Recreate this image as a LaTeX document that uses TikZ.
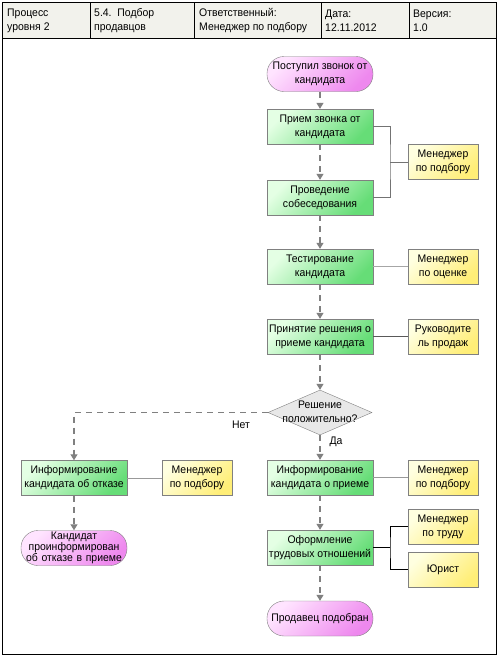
\documentclass[tikz,border=0pt]{standalone}
\usepackage{fontspec}
\setmainfont{Liberation Sans}[FakeStretch=0.95]
\usetikzlibrary{shapes.geometric,arrows.meta}
\definecolor{greenL}{HTML}{E4FFE4}
\definecolor{greenD}{HTML}{66DD77}
\definecolor{yellowL}{HTML}{FFFFE0}
\definecolor{yellowD}{HTML}{FFEE77}
\definecolor{pinkL}{HTML}{FFE4FF}
\definecolor{pinkD}{HTML}{EE88EE}
\definecolor{edge}{HTML}{808080}
\definecolor{hdr}{HTML}{F2F2EC}
\definecolor{dia}{HTML}{E8E8E8}
\tikzset{
  txt/.style={font=\fontsize{11pt}{14pt}\selectfont, align=center, inner sep=0pt},
  proc/.style={txt, rectangle, draw=edge, minimum width=106pt, minimum height=35pt,
    top color=greenL, bottom color=greenD, shading angle=45},
  role/.style={txt, rectangle, draw=edge, minimum width=70pt, minimum height=35pt,
    top color=yellowL, bottom color=yellowD, shading angle=45},
  term/.style={txt, rectangle, rounded corners=17pt, draw=edge, minimum width=106pt, minimum height=35pt,
    top color=pinkL, bottom color=pinkD, shading angle=45},
  flow/.style={draw=edge, line width=1.2pt, dash pattern=on 6pt off 5pt,
    -{Triangle[width=7pt,length=6pt]}},
  rl/.style={draw=edge!90!black, line width=1pt},
  hd/.style={font=\fontsize{11pt}{14pt}\selectfont, align=left, anchor=west, inner sep=0pt},
  lbl/.style={font=\fontsize{11pt}{14pt}\selectfont, inner sep=0pt}
}
\begin{document}
\begin{tikzpicture}[x=1pt,y=-1pt]
\useasboundingbox (0,0) rectangle (499,657);
\fill[white] (0,0) rectangle (499,657);
% frame & header
\fill[hdr] (2.5,2.5) rectangle (496.5,38.5);
\draw[black, line width=1pt] (2.5,2.5) rectangle (496.5,654.5);
\draw[black, line width=1pt] (2.5,38.5) -- (496.5,38.5);
\foreach \xx in {90,194,321,409} \draw[black, line width=1pt] (\xx,2.5) -- (\xx,38.5);
\node[hd] (h1) at (7,20.5) {Процесс\\уровня 2};
\node[hd] (h2) at (94,20.5) {5.4.\ \ Подбор\\продавцов};
\node[hd] (h3) at (199,20.5) {Ответственный:\\Менеджер по подбору};
\node[hd] (h4) at (325,20.5) {Дата:\\12.11.2012};
\node[hd] (h5) at (413,20.5) {Версия:\\1.0};

% main column
\node[term] (start) at (320,74) {Поступил звонок от\\кандидата};
\node[proc] (p1) at (320,126.5) {Прием звонка от\\кандидата};
\node[proc] (p2) at (320,197.5) {Проведение\\собеседования};
\node[proc] (p3) at (320,266.5) {Тестирование\\кандидата};
\node[proc] (p4) at (320,336.5) {Принятие решения о\\приеме кандидата};
\node[diamond, draw=edge, fill=dia, minimum width=104pt, minimum height=45pt, aspect=2.3, inner sep=0pt] (dec) at (320,412.5) {};
\node[txt] (dectext) at (320,412) {Решение\\положительно?};
\node[proc] (p5) at (320,477.5) {Информирование\\кандидата о приеме};
\node[proc] (p6) at (320,547.5) {Оформление\\трудовых отношений};
\node[term] (fin) at (320,618.5) {Продавец подобран};

% left column
\node[proc] (n1) at (74,478) {Информирование\\кандидата об отказе};
\node[term, text width=104pt, font=\fontsize{11pt}{11pt}\selectfont] (nend) at (74,548) {Кандидат\\проинформирован\\об отказе в приеме};

% roles
\node[role] (r1) at (443,162) {Менеджер\\по подбору};
\node[role] (r2) at (443,266.5) {Менеджер\\по оценке};
\node[role] (r3) at (443,336.5) {Руководите\\ль продаж};
\node[role] (rn) at (197,478) {Менеджер\\по подбору};
\node[role] (r5) at (443,477.5) {Менеджер\\по подбору};
\node[role] (r6a) at (443,526.5) {Менеджер\\по труду};
\node[role] (r6b) at (443,569.5) {Юрист};

% flow
\draw[flow] (start) -- (p1);
\draw[flow] (p1) -- (p2);
\draw[flow] (p2) -- (p3);
\draw[flow] (p3) -- (p4);
\draw[flow] (p4) -- (dec.north);
\draw[flow] (dec.south) -- (p5);
\draw[flow] (dec.west) -| (n1.north);
\draw[flow] (n1) -- (nend);
\draw[flow] (p5) -- (p6);
\draw[flow] (p6) -- (fin);
\node[lbl] (yes) at (336,442) {Да};
\node[lbl] (no) at (241,425) {Нет};

% role links
\coordinate (b1) at (390,162);
\draw[rl] (p1.east) -| (b1) |- (p2.east);
\draw[rl] (b1) -- (r1.west);
\draw[rl, draw=edge!70] (p3.east) -- (r2.west);
\draw[rl, draw=black!65] (p4.east) -- (r3.west);
\draw[rl, draw=edge!80] (n1.east) -- (rn.west);
\draw[rl, draw=edge!80] (p5.east) -- (r5.west);
\coordinate (b6) at (390,547.5);
\draw[rl, draw=black] (r6a.west) -| (b6) |- (r6b.west);
\draw[rl, draw=black] (p6.east) -- (b6);
\end{tikzpicture}
\end{document}
